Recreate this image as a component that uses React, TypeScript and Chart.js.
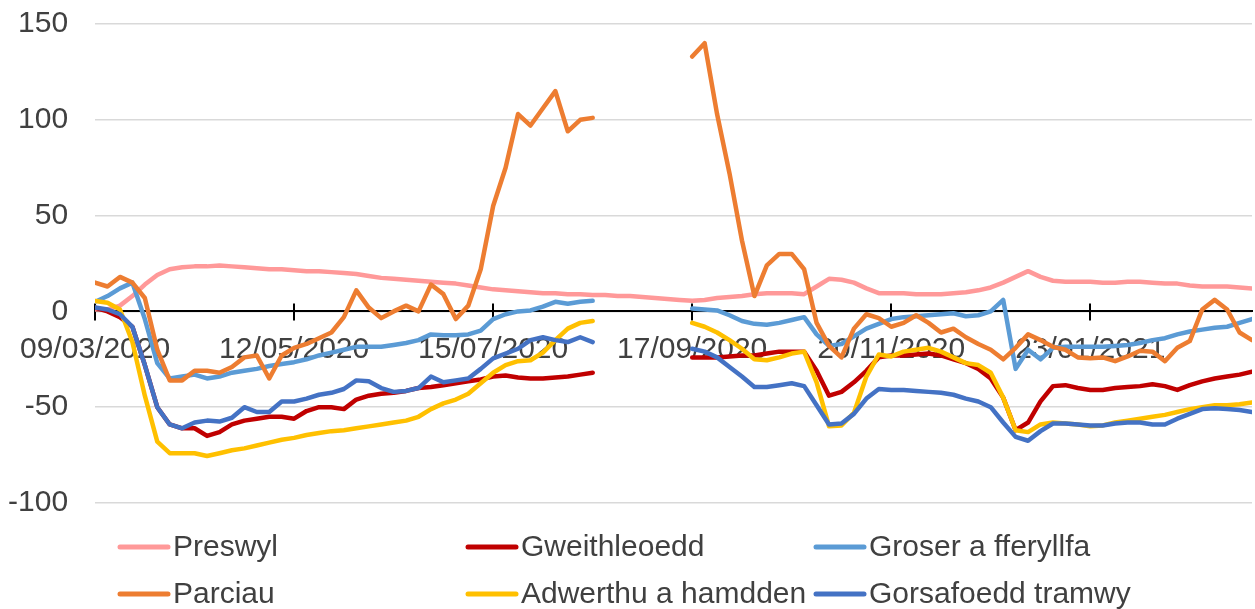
import { useEffect, useRef } from 'react';
import { Chart, registerables } from 'chart.js';

Chart.register(...registerables);

// Sampling grid: one reading every 4 days from 09/03/2020
const SAMPLE_STEP = 4;
const SAMPLE_COUNT = 94;
const sampleDays = Array.from({ length: SAMPLE_COUNT }, (_, i) => i * SAMPLE_STEP);

const xTickDays = [0, 64, 128, 192, 256, 320];
const xTickLabels = ['09/03/2020', '12/05/2020', '15/07/2020', '17/09/2020', '20/11/2020', '23/01/2021'];
const yTickValues = [-100, -50, 0, 50, 100, 150];

const seriesNames = ['Preswyl', 'Gweithleoedd', 'Groser a fferyllfa', 'Parciau', 'Adwerthu a hamdden', 'Gorsafoedd tramwy'];
const seriesColors = ['#FF9999', '#C00000', '#5B9BD5', '#ED7D31', '#FFC000', '#4472C4'];

const preswyl = [
  1, 1, 3, 8, 14, 19, 22, 23, 23.5, 23.5,
  24, 23.5, 23, 22.5, 22, 22, 21.5, 21, 21, 20.5,
  20, 19.5, 18.5, 17.5, 17, 16.5, 16, 15.5, 15, 14.5,
  13.5, 12.5, 11.5, 11, 10.5, 10, 9.5, 9.5, 9, 9,
  8.5,
  8.5, 8, 8, 7.5, 7, 6.5, 6,
  5.5, 6, 7, 7.5, 8, 9, 9.5, 9.5, 9.5, 9,
  13, 17, 16.5, 15, 12, 9.5, 9.5, 9.5, 9, 9,
  9, 9.5, 10, 11, 12.5, 15, 18, 21, 18, 16,
  15.5, 15.5, 15.5, 15, 15, 15.5, 15.5, 15, 14.5, 14.5,
  13.5, 13, 13, 13, 12.5, 12,
];

const gweithleoedd = [
  2, 0, -3, -8, -28, -50, -59, -61, -61, -65,
  -63, -59, -57, -56, -55, -55, -56, -52, -50, -50,
  -51, -46, -44, -43, -42.5, -41.5, -40, -39.5, -38.5, -37.5,
  -36.5, -35.5, -34, -33.5, -34.5, -35, -35, -34.5, -34, -33,
  -32,
  null, null, null, null, null, null, null,
  -24, -24, -24, -23.5, -23, -23, -22, -21, -21, -21,
  -31, -44, -42, -37, -31, -24, -23, -23, -22.5, -22,
  -23, -25, -27, -30, -35, -45, -62, -58, -47, -39,
  -38.5, -40, -41, -41, -40, -39.5, -39, -38, -39, -41,
  -38.5, -36.5, -35, -34, -33, -31.5,
];

const groser = [
  5, 8, 12, 15, -4, -27, -35, -34, -33, -35,
  -34, -32, -31, -30, -28.5, -27.5, -26.5, -25, -23, -21.5,
  -20, -18.5, -18.5, -18.5, -17.5, -16.5, -15, -12, -12.5, -12.5,
  -12, -10, -4, -1.5, 0, 0.5, 2.5, 5, 4, 5,
  5.5,
  null, null, null, null, null, null, null,
  1.5, 1, 0.5, -2, -5, -6.5, -7, -6, -4.5, -3,
  -12, -18, -17, -13, -9, -6.5, -4, -3, -2.5, -2,
  -1.5, -1, -2.5, -2, 0, 6, -30, -20, -25, -19,
  -18.5, -18.5, -18.5, -18.5, -18, -17.5, -16.5, -15, -14, -12,
  -10.5, -9.5, -8.5, -8, -6, -4,
];

const parciau = [
  15, 13, 18, 15, 7, -20, -36, -36, -31, -31,
  -32, -29, -24, -23, -35, -23, -19, -17, -14, -11,
  -3, 11, 2, -3.5, 0, 3, 0, 14, 9, -4,
  3, 22, 55, 75, 103, 97, 106, 115, 94, 100,
  101,
  null, null, null, null, null, null, null,
  133, 140, 103, 72, 37, 8, 24, 30, 30, 22,
  -6, -18, -24, -9, -1.5, -3.5, -8, -6, -2, -6,
  -11, -9, -13.5, -17, -20, -25, -19, -12, -15, -18.5,
  -20, -24, -24.5, -24, -26, -23.5, -20.5, -21, -26, -19,
  -15.5, 1, 6, 1, -11, -15,
];

const adwerthu = [
  5.5, 4.5, 1, -16, -44, -68, -74, -74, -74, -75.5,
  -74, -72.5, -71.5, -70, -68.5, -67, -66, -64.5, -63.5, -62.5,
  -62, -61, -60, -59, -58, -57, -55, -51, -48, -46,
  -43, -37.5, -32, -28, -26, -25.5, -21.5, -15, -9, -6,
  -5,
  null, null, null, null, null, null, null,
  -6, -8, -11, -15, -19.5, -25, -25.5, -24, -22, -21,
  -37, -60, -59.5, -53, -34, -22.5, -23.5, -21, -20, -19,
  -21, -24, -27, -28, -32, -45, -62, -63, -59, -58,
  -58.5, -59, -60, -59.5, -58, -57, -56, -55, -54, -52.5,
  -51, -50, -49, -49, -48.5, -47.5,
];

const gorsafoedd = [
  2, 1, -1.5, -8, -28, -50, -59, -61, -58, -57,
  -57.5, -55.5, -50, -52.5, -52.5, -47, -47, -45.5, -43.5, -42.5,
  -40.5, -36, -36.5, -40, -42, -41.5, -40, -34, -37, -36,
  -35, -30, -24.5, -22, -19.5, -15, -13.5, -15, -16, -13.5,
  -16,
  null, null, null, null, null, null, null,
  -19.5, -21, -24, -29, -34, -39.5, -39.5, -38.5, -37.5, -39,
  -49, -59, -58.5, -53.5, -45.5, -40.5, -41, -41, -41.5, -42,
  -42.5, -43.5, -45.5, -47, -50, -58, -65.5, -67.5, -62.5, -58.5,
  -58.5, -59, -59.5, -59.5, -58.5, -58, -58, -59, -59, -56,
  -53.5, -51, -50.5, -51, -51.5, -52.5,
];

const seriesValues = [preswyl, gweithleoedd, groser, parciau, adwerthu, gorsafoedd];

const FONT_FAMILY = "'Liberation Sans', Arial, sans-serif";
const TEXT_COLOR = '#404040';
const FONT_SIZE = 30;

const axisTickMarks = {
  id: 'axisTickMarks',
  beforeDatasetsDraw(chart: any) {
    const xs = chart.scales.x;
    const ys = chart.scales.y;
    const y0 = ys.getPixelForValue(0);
    const ctx = chart.ctx;
    ctx.save();
    ctx.strokeStyle = '#000000';
    ctx.lineWidth = 2;
    for (const d of xTickDays) {
      const px = Math.round(xs.getPixelForValue(d));
      ctx.beginPath();
      ctx.moveTo(px, y0 - 8);
      ctx.lineTo(px, y0 + 9);
      ctx.stroke();
    }
    ctx.restore();
  },
};

const legendCols = [118, 466, 814];
const legendRows = [547, 594];

const gridLegend = {
  id: 'gridLegend',
  afterDraw(chart: any) {
    const ctx = chart.ctx;
    ctx.save();
    ctx.font = `${FONT_SIZE}px ${FONT_FAMILY}`;
    ctx.textBaseline = 'middle';
    ctx.textAlign = 'left';
    chart.data.datasets.forEach((ds: any, i: number) => {
      const x = legendCols[i % 3];
      const y = legendRows[Math.floor(i / 3)];
      ctx.strokeStyle = ds.borderColor;
      ctx.lineWidth = 5;
      ctx.lineCap = 'round';
      ctx.beginPath();
      ctx.moveTo(x + 2, y);
      ctx.lineTo(x + 50, y);
      ctx.stroke();
      ctx.fillStyle = TEXT_COLOR;
      ctx.fillText(ds.label, x + 55, y + 1);
    });
    ctx.restore();
  },
};

export default function App() {
  const canvasRef = useRef<HTMLCanvasElement | null>(null);

  useEffect(() => {
    if (!canvasRef.current) return;
    const n = seriesNames.length;
    const chart = new Chart(canvasRef.current, {
      type: 'line',
      data: {
        datasets: seriesNames.map((name, i) => ({
          label: name,
          data: seriesValues[i].map((v, k) => ({ x: sampleDays[k], y: v })),
          borderColor: seriesColors[i],
          backgroundColor: seriesColors[i],
          borderWidth: 4.5,
          pointRadius: 0,
          tension: 0,
          spanGaps: false,
          borderJoinStyle: 'round',
          borderCapStyle: 'round',
          order: n - i,
        })),
      },
      options: {
        responsive: false,
        animation: false,
        devicePixelRatio: 1,
        layout: { padding: { left: 0, right: 3, top: 24, bottom: 106 } },
        plugins: {
          legend: { display: false },
          tooltip: { enabled: false },
        },
        scales: {
          x: {
            type: 'linear',
            position: { y: 0 } as any,
            min: 0,
            max: 372,
            afterBuildTicks: (axis: any) => {
              axis.ticks = xTickDays.map((v) => ({ value: v }));
            },
            ticks: {
              autoSkip: false,
              maxRotation: 0,
              padding: 20,
              color: TEXT_COLOR,
              font: { size: FONT_SIZE, family: FONT_FAMILY },
              callback: (value: any) => {
                const idx = xTickDays.indexOf(Number(value));
                return idx >= 0 ? xTickLabels[idx] : '';
              },
            },
            grid: { display: false, drawTicks: false },
            border: { display: true, color: '#000000', width: 2 },
          },
          y: {
            type: 'linear',
            min: -100,
            max: 150,
            afterBuildTicks: (axis: any) => {
              axis.ticks = yTickValues.map((v) => ({ value: v }));
            },
            afterFit: (axis: any) => {
              axis.width = 95;
              axis.paddingTop = 0;
              axis.paddingBottom = 0;
            },
            ticks: {
              padding: 27,
              color: TEXT_COLOR,
              font: { size: FONT_SIZE, family: FONT_FAMILY },
            },
            grid: { color: '#d9d9d9', lineWidth: 1.5, drawTicks: false },
            border: { display: false },
          },
        },
      },
      plugins: [axisTickMarks, gridLegend],
    } as any);
    return () => chart.destroy();
  }, []);

  return (
    <div style={{ position: 'absolute', left: 0, top: 0, width: 1255, height: 609, background: '#ffffff' }}>
      <canvas ref={canvasRef} width={1255} height={609} style={{ width: 1255, height: 609, display: 'block' }} />
    </div>
  );
}
